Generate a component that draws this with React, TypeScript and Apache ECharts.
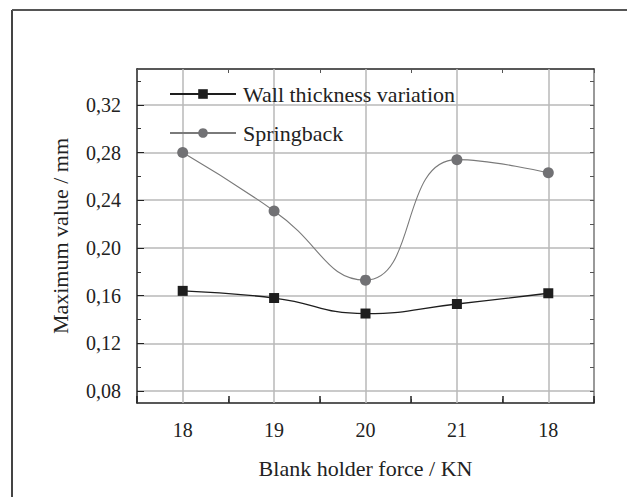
import React, { useEffect, useRef } from "react";
import * as echarts from "echarts";

const categories = ["18", "19", "20", "21", "18"];
const wallThickness = [0.164, 0.158, 0.145, 0.153, 0.162];
const springback = [0.28, 0.231, 0.173, 0.274, 0.263];
const yMin = 0.07;
const yMax = 0.35;
const yMajorTicks = [0.08, 0.12, 0.16, 0.2, 0.24, 0.28, 0.32];
const yMinorTicks = [0.1, 0.14, 0.18, 0.22, 0.26, 0.3, 0.34];
const yAllTicks = [0.08, 0.1, 0.12, 0.14, 0.16, 0.18, 0.2, 0.22, 0.24, 0.26, 0.28, 0.3, 0.32, 0.34];
const xMajorTicks = [0, 1, 2, 3, 4];

const FONT = "Liberation Serif";
const fmt = (v: number) => v.toFixed(2).replace(".", ",");

export default function App() {
  const ref = useRef<HTMLDivElement>(null);
  useEffect(() => {
    if (!ref.current) return;
    const chart = echarts.init(ref.current, undefined, { renderer: "svg" });
    const grid = { left: 137, top: 69, width: 457, height: 334 };
    chart.setOption({
      animation: false,
      backgroundColor: "#ffffff",
      textStyle: { fontFamily: FONT },
      grid,
      graphic: [
        { type: "line", shape: { x1: 12, y1: 10, x2: 12, y2: 497 }, style: { stroke: "#444", lineWidth: 2 } },
        { type: "line", shape: { x1: 12, y1: 10, x2: 627, y2: 10 }, style: { stroke: "#555", lineWidth: 2 } },
      ],
      legend: {
        orient: "vertical",
        left: 169,
        top: 83,
        padding: 0,
        itemWidth: 66,
        itemHeight: 12,
        itemGap: 17,
        textStyle: { fontFamily: FONT, fontSize: 22, color: "#222", lineHeight: 22, padding: [0, 0, 0, 2] },
        data: ["Wall thickness variation", "Springback"],
      },
      xAxis: [
        {
          type: "category",
          data: categories,
          position: "bottom",
          axisLine: { show: true, lineStyle: { color: "#222", width: 1.5 } },
          axisTick: { show: true, inside: true, customValues: xMajorTicks, length: 7, lineStyle: { color: "#222", width: 1.5 } },
          axisLabel: { fontFamily: FONT, fontSize: 20, color: "#222", margin: 17 },
          splitLine: { show: false },
          name: "Blank holder force / KN",
          nameLocation: "middle",
          nameGap: 54,
          nameTextStyle: { fontFamily: FONT, fontSize: 22, color: "#222", verticalAlign: "top" },
        },
        {
          type: "category",
          data: categories,
          position: "bottom",
          axisLine: { show: false },
          axisTick: { show: true, inside: true, length: 4, lineStyle: { color: "#333" } },
          axisLabel: { show: false },
          splitLine: { show: false },
        },
        {
          type: "category",
          data: categories,
          position: "top",
          axisLine: { show: true, lineStyle: { color: "#222", width: 1.5 } },
          axisTick: { show: true, inside: true, length: 4, lineStyle: { color: "#555" } },
          axisLabel: { show: false },
          splitLine: { show: false },
        },
      ],
      yAxis: [
        {
          type: "value",
          min: yMin,
          max: yMax,
          position: "left",
          axisLine: { show: true, lineStyle: { color: "#222", width: 1.5 } },
          axisTick: { show: true, inside: true, length: 7, customValues: yMajorTicks, lineStyle: { color: "#222" } },
          axisLabel: { fontFamily: FONT, fontSize: 20, color: "#222", margin: 16, customValues: yMajorTicks, formatter: fmt },
          splitLine: { show: true, lineStyle: { color: "#b8b8b8", width: 1.5 } },
          name: "Maximum value / mm",
          nameLocation: "middle",
          nameGap: 66,
          nameTextStyle: { fontFamily: FONT, fontSize: 22, color: "#222" },
        },
        {
          type: "value",
          min: yMin,
          max: yMax,
          position: "left",
          axisLine: { show: false },
          axisTick: { show: true, inside: true, length: 4, customValues: yMinorTicks, lineStyle: { color: "#333" } },
          axisLabel: { show: false },
          splitLine: { show: false },
        },
        {
          type: "value",
          min: yMin,
          max: yMax,
          position: "right",
          axisLine: { show: true, lineStyle: { color: "#777", width: 1.5 } },
          axisTick: { show: true, inside: true, length: 4, customValues: yAllTicks, lineStyle: { color: "#555" } },
          axisLabel: { show: false },
          splitLine: { show: false },
        },
      ],
      series: [
        {
          name: "Wall thickness variation",
          type: "line",
          data: wallThickness,
          smooth: true,
          symbol: "rect",
          symbolSize: 10,
          itemStyle: { color: "#1e1e1e" },
          lineStyle: { color: "#1e1e1e", width: 1.3 },
          z: 3,
          markLine: {
            silent: true,
            symbol: "none",
            label: { show: false },
            lineStyle: { color: "#b8b8b8", width: 1.5, type: "solid" },
            z: 1,
            data: xMajorTicks.map((i) => ({ xAxis: i })),
          },
        },
        {
          name: "Springback",
          type: "line",
          data: springback,
          smooth: true,
          symbol: "circle",
          symbolSize: 11,
          itemStyle: { color: "#717174" },
          lineStyle: { color: "#7a7a7a", width: 1.1 },
          z: 3,
        },
      ],
    });
    return () => chart.dispose();
  }, []);
  return <div ref={ref} style={{ position: "fixed", left: 0, top: 0, width: 627, height: 497 }} />;
}
